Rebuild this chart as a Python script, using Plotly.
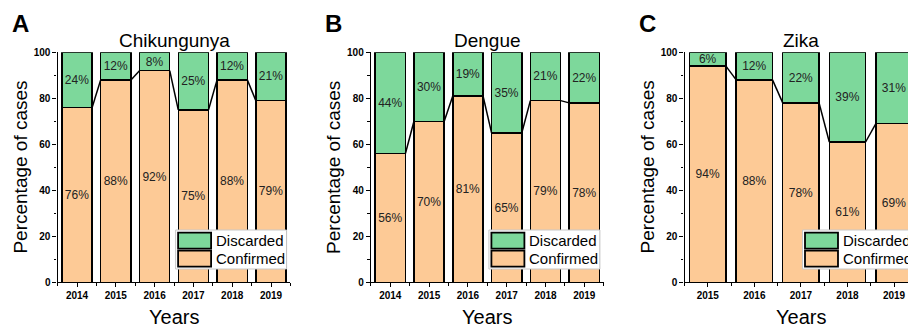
import plotly.graph_objects as go

W, H = 908, 329
FONT = "Liberation Sans, Arial, sans-serif"

# ---- data -------------------------------------------------------------
panel_letters = ["A", "B", "C"]
disease_titles = ["Chikungunya", "Dengue", "Zika"]
series_names = ["Discarded", "Confirmed"]

chik_years = [2014, 2015, 2016, 2017, 2018, 2019]
chik_confirmed = [76, 88, 92, 75, 88, 79]
chik_discarded = [24, 12, 8, 25, 12, 21]

dengue_years = [2014, 2015, 2016, 2017, 2018, 2019]
dengue_confirmed = [56, 70, 81, 65, 79, 78]
dengue_discarded = [44, 30, 19, 35, 21, 22]

zika_years = [2015, 2016, 2017, 2018, 2019]
zika_confirmed = [94, 88, 78, 61, 69]
zika_discarded = [6, 12, 22, 39, 31]

y_ticks = [0, 20, 40, 60, 80, 100]

# ---- styling ----------------------------------------------------------
GREEN = "rgb(125,216,155)"
PEACH = "rgb(253,202,150)"
TEXT = "#222222"
BAR_W = 0.78

# plot areas in pixels (left, right) ; all panels share the same vertical extent
PLOT_TOP, PLOT_BOTTOM = 52.3, 282.3
PLOT_WIDTH = 232.8
panel_left = [57.6, 370.9, 684.5]


def fx(px):
    return px / W


def fy(py):
    return 1 - py / H


panels = [
    (chik_years, chik_confirmed, chik_discarded),
    (dengue_years, dengue_confirmed, dengue_discarded),
    (zika_years, zika_confirmed, zika_discarded),
]

fig = go.Figure()
annotations = []
shapes = []

for i, (years, confirmed, discarded) in enumerate(panels):
    n = i + 1
    xa = "x" if n == 1 else f"x{n}"
    ya = "y" if n == 1 else f"y{n}"
    left = panel_left[i]
    right = left + PLOT_WIDTH
    step = PLOT_WIDTH / len(years)
    x0 = years[0] - 0.5
    x1 = years[-1] + 0.5
    dom_right = right
    if right > W:
        # the last panel runs past the page edge
        x1 = x0 + (W - left) / step
        dom_right = W

    fig.add_trace(go.Bar(
        x=years, y=confirmed, name=series_names[1], width=BAR_W,
        marker=dict(color=PEACH, line=dict(color="black", width=1.5)),
        texttemplate="%{y}%", textposition="inside", insidetextanchor="middle",
        textangle=0, constraintext="none",
        textfont=dict(family=FONT, size=12, color=TEXT),
        cliponaxis=False, showlegend=False, xaxis=xa, yaxis=ya,
    ))
    fig.add_trace(go.Bar(
        x=years, y=discarded, name=series_names[0], width=BAR_W,
        marker=dict(color=GREEN, line=dict(color="black", width=1.5)),
        texttemplate="%{y}%", textposition="inside", insidetextanchor="middle",
        textangle=0, constraintext="none",
        textfont=dict(family=FONT, size=12, color=TEXT),
        cliponaxis=False, showlegend=False, xaxis=xa, yaxis=ya,
    ))

    # connect lines between the tops of consecutive confirmed columns
    lx, ly = [], []
    for k in range(len(years) - 1):
        lx += [years[k] + BAR_W / 2, years[k + 1] - BAR_W / 2, None]
        ly += [confirmed[k], confirmed[k + 1], None]
    fig.add_trace(go.Scatter(
        x=lx, y=ly, mode="lines", line=dict(color="black", width=1.5),
        showlegend=False, hoverinfo="skip", xaxis=xa, yaxis=ya,
    ))

    xkey = "xaxis" if n == 1 else f"xaxis{n}"
    ykey = "yaxis" if n == 1 else f"yaxis{n}"
    fig.update_layout({
        xkey: dict(
            domain=[fx(left), fx(dom_right)], range=[x0, x1], anchor=ya,
            tickmode="linear", tick0=years[0], dtick=1, tickformat="d",
            ticks="outside", ticklen=4, tickwidth=1.2, tickcolor="black",
            minor=dict(dtick=0.5, tick0=years[0], ticks="outside", ticklen=3,
                       tickwidth=1, tickcolor="black"),
            showline=True, linecolor="black", linewidth=1.3,
            showgrid=False, zeroline=False, automargin=False,
            tickfont=dict(family=FONT, size=10, color="black", weight="bold"),
        ),
        ykey: dict(
            domain=[fy(PLOT_BOTTOM), fy(PLOT_TOP)], range=[0, 100], anchor=xa,
            tickvals=y_ticks,
            ticks="outside", ticklen=4, tickwidth=1.2, tickcolor="black",
            minor=dict(dtick=10, ticks="outside", ticklen=2.5, tickwidth=1,
                       tickcolor="black"),
            showline=True, linecolor="black", linewidth=1.3,
            showgrid=False, zeroline=False, automargin=False,
            tickfont=dict(family=FONT, size=10, color="black", weight="bold"),
        ),
    })

    center = (left + right) / 2
    # panel letter
    annotations.append(dict(
        text=f"<b>{panel_letters[i]}</b>", x=fx(left - 37), y=fy(23),
        xref="paper", yref="paper", xanchor="center", yanchor="middle",
        showarrow=False, font=dict(family=FONT, size=24, color="black"),
    ))
    # panel title
    annotations.append(dict(
        text=disease_titles[i], x=fx(center), y=fy(40),
        xref="paper", yref="paper", xanchor="center", yanchor="middle",
        showarrow=False, font=dict(family=FONT, size=19, color="black"),
    ))
    # axis titles
    annotations.append(dict(
        text="Percentage of cases", x=fx(left - 38), y=fy(167), textangle=-90,
        xref="paper", yref="paper", xanchor="center", yanchor="middle",
        showarrow=False, font=dict(family=FONT, size=19, color="black"),
    ))
    annotations.append(dict(
        text="Years", x=fx(center), y=fy(317),
        xref="paper", yref="paper", xanchor="center", yanchor="middle",
        showarrow=False, font=dict(family=FONT, size=20, color="black"),
    ))

    # legend box
    bl, bt, bw, bh = left + 118, 230, 111, 39
    shapes.append(dict(
        type="rect", xref="paper", yref="paper", layer="above",
        x0=fx(bl), x1=fx(bl + bw), y0=fy(bt + bh), y1=fy(bt),
        fillcolor="white", line=dict(color="#c8c8c8", width=1),
    ))
    for j, (name, col) in enumerate(zip(series_names, [GREEN, PEACH])):
        top = bt + 2.7 + j * 18
        shapes.append(dict(
            type="rect", xref="paper", yref="paper", layer="above",
            x0=fx(bl + 2.5), x1=fx(bl + 35.5), y0=fy(top + 16), y1=fy(top),
            fillcolor=col, line=dict(color="black", width=1.8),
        ))
        annotations.append(dict(
            text=name, x=fx(bl + 38), y=fy(top + 8),
            xref="paper", yref="paper", xanchor="left", yanchor="middle",
            showarrow=False, font=dict(family=FONT, size=15, color="black"),
        ))

fig.update_layout(
    width=W, height=H,
    margin=dict(l=0, r=0, t=0, b=0),
    barmode="stack",
    paper_bgcolor="white", plot_bgcolor="white",
    showlegend=False,
    annotations=annotations,
    shapes=shapes,
    font=dict(family=FONT, color="black"),
)

fig.write_html("out.html")
